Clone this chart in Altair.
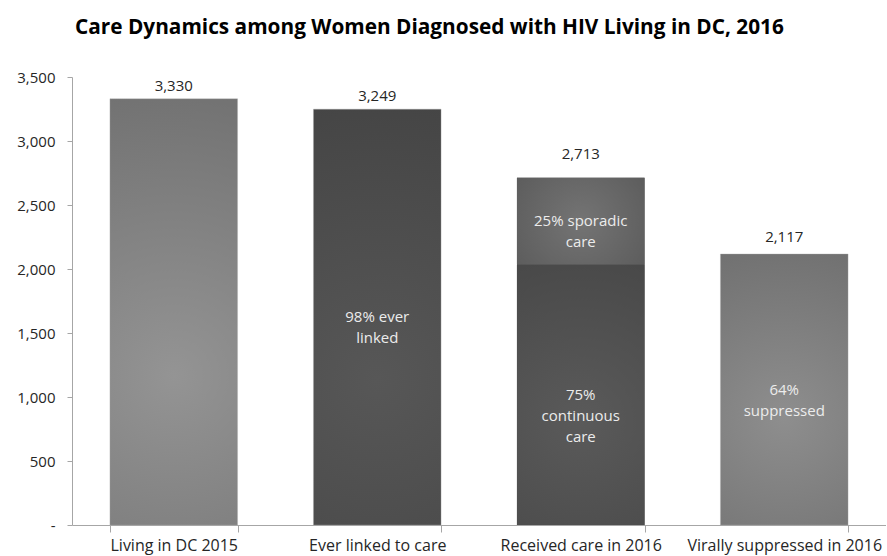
import altair as alt
import pandas as pd

# Care continuum for women diagnosed with HIV living in DC
categories = [
    "Living in DC 2015",
    "Ever linked to care",
    "Received care in 2016",
    "Virally suppressed in 2016",
]
totals = [3330, 3249, 2713, 2117]

# Bar segments: (category, segment, start, end)
seg_category = categories[:2] + [categories[2], categories[2], categories[3]]
seg_name = ["living", "linked", "continuous", "sporadic", "suppressed"]
seg_start = [0, 0, 0, 2035, 0]
seg_end = [3330, 3249, 2035, 2713, 2117]
seg_text = [
    "",
    "98% ever\nlinked",
    "75%\ncontinuous\ncare",
    "25% sporadic\ncare",
    "64%\nsuppressed",
]

FONT = "Open Sans"

segments = pd.DataFrame({
    "category": seg_category,
    "segment": seg_name,
    "start": seg_start,
    "end": seg_end,
    "text": seg_text,
})
segments["mid"] = (segments["start"] + segments["end"]) / 2
totals_df = pd.DataFrame({"category": categories, "total": totals})


def radial(inner, outer, cy=0.55, r=0.75):
    return alt.RadialGradient(
        gradient="radial",
        x1=0.5, y1=cy, x2=0.5, y2=cy, r1=0, r2=r,
        stops=[
            alt.GradientStop(offset=0, color=inner),
            alt.GradientStop(offset=1, color=outer),
        ],
    )


fills = {
    "living": radial("#949494", "#6e6e6e", cy=0.65),
    "linked": radial("#575757", "#434343", cy=0.65),
    "continuous": radial("#5a5a5a", "#464646", cy=0.6),
    "sporadic": radial("#747474", "#575757", cy=0.5),
    "suppressed": radial("#8e8e8e", "#6c6c6c", cy=0.6),
}
# faint light rim on whole bars; the stacked pair blends without a seam
rims = {"living": 0.35, "linked": 0.35, "continuous": 0, "sporadic": 0, "suppressed": 0.35}

x_enc = alt.X(
    "category:N",
    sort=categories,
    title=None,
    scale=alt.Scale(paddingInner=0.373, paddingOuter=0.1865),
    axis=alt.Axis(
        tickBand="extent",
        labelAngle=0,
        labelFont=FONT,
        labelFontSize=16,
        labelColor="#262626",
        labelBaseline="alphabetic",
        labelPadding=18,
        labelLimit=0,
        tickSize=7,
        tickColor="#a6a6a6",
        domainColor="#a6a6a6",
        grid=False,
    ),
)
y_scale = alt.Scale(domain=[0, 3500], nice=False)
y_axis = alt.Axis(
    values=[0, 500, 1000, 1500, 2000, 2500, 3000, 3500],
    labelExpr="datum.value == 0 ? '-' : format(datum.value, ',')",
    labelFont=FONT,
    labelFontSize=15,
    labelColor="#262626",
    labelPadding=12,
    tickSize=5,
    tickColor="#a6a6a6",
    domainColor="#a6a6a6",
    grid=False,
)

base = alt.Chart(segments)

# solid backing under the stacked bar so the two segments meet cleanly
backing = (
    alt.Chart(totals_df)
    .transform_filter(alt.datum.category == categories[2])
    .mark_bar(color="#505050")
    .encode(x=x_enc, y=alt.Y("total:Q", scale=y_scale, title=None, axis=y_axis))
)

bar_layers = []
for name in seg_name:
    bar_layers.append(
        base.transform_filter(alt.datum.segment == name)
        .mark_bar(color=fills[name], stroke="#a8a8a8", strokeWidth=1, strokeOpacity=rims[name])
        .encode(
            x=x_enc,
            y=alt.Y("start:Q", scale=y_scale, title=None, axis=y_axis),
            y2="end:Q",
        )
    )

inside_text = (
    base.transform_filter(alt.datum.text != "")
    .mark_text(
        font=FONT, fontSize=15, color="#ececec", lineBreak="\n", lineHeight=21,
        baseline="middle",
    )
    .encode(x=alt.X("category:N", sort=categories), y=alt.Y("mid:Q", scale=y_scale), text="text:N")
)

# lift of each total label above its bar, in pixels
label_lift = {
    "Living in DC 2015": 8,
    "Ever linked to care": 8,
    "Received care in 2016": 19,
    "Virally suppressed in 2016": 12,
}
total_layers = []
for cat in categories:
    total_layers.append(
        alt.Chart(totals_df)
        .transform_filter(alt.datum.category == cat)
        .mark_text(font=FONT, fontSize=15, color="#262626", baseline="alphabetic", dy=-label_lift[cat])
        .encode(
            x=alt.X("category:N", sort=categories),
            y=alt.Y("total:Q", scale=y_scale),
            text=alt.Text("total:Q", format=","),
        )
    )

chart = (
    alt.layer(backing, *bar_layers, inside_text, *total_layers)
    .properties(
        width=814,
        height=448,
        padding={"left": 72, "top": 77, "right": 0, "bottom": 30},
        autosize=alt.AutoSizeParams(type="none"),
        background="white",
        title=alt.TitleParams(
            "Care Dynamics among Women Diagnosed with HIV Living in DC, 2016",
            font=FONT,
            fontSize=20.8,
            fontWeight="bold",
            color="#000000",
            anchor="start",
            frame="group",
            baseline="alphabetic",
            dx=3,
            offset=15,
        ),
    )
    .configure_view(stroke=None)
)

chart.save("out.html", embed_options={"renderer": "svg", "actions": False})
